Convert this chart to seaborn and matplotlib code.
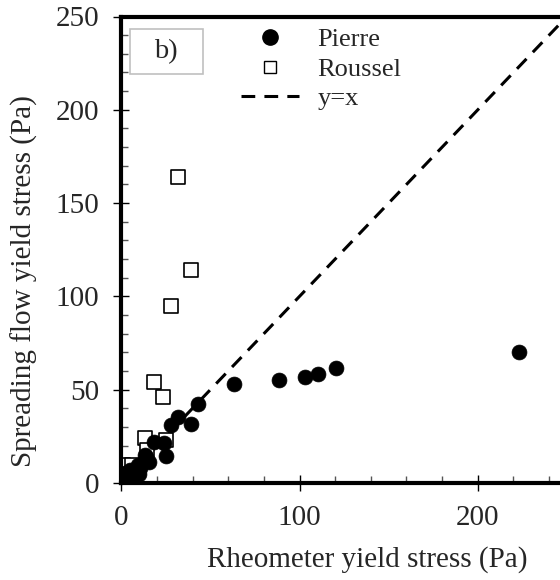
import matplotlib
matplotlib.use("Agg")
import matplotlib.pyplot as plt
from matplotlib.lines import Line2D
from matplotlib.patches import Rectangle
from matplotlib.ticker import MultipleLocator
import seaborn as sns
import pandas as pd
import numpy as np

# ---- data ----
pierre_x = [222.9, 120.7, 110.3, 102.9, 88.3, 63.2, 43.2, 39.2, 31.6, 27.8,
            24.2, 25.4, 18.2, 13.8, 15.8, 13.3, 0.5, 1.5, 3.0, 5.0, 6.0,
            10.0, 10.5, 9.6, 2.0, 4.9]
pierre_y = [70.3, 61.4, 58.4, 56.8, 55.4, 52.8, 42.5, 31.6, 35.5, 31.0,
            21.6, 14.7, 22.2, 13.7, 11.1, 15.0, 0.8, 2.0, 2.8, 4.3, 6.6,
            4.8, 8.0, 9.6, 5.4, 7.0]
roussel_x = [31.8, 39.2, 27.8, 18.2, 23.4, 13.1, 25.4, 14.5, 1.1, 6.1, 9.0, 1.0, 3.0]
roussel_y = [164.0, 114.4, 94.9, 54.0, 46.1, 24.2, 23.2, 17.7, 9.8, 9.8, 5.9, 1.0, 3.0]
line_x = [0, 250]
line_y = [0, 250]

x_label = "Rheometer yield stress (Pa)"
y_label = "Spreading flow yield stress (Pa)"
legend_labels = ["Pierre", "Roussel", "y=x"]
panel_label = "b)"

sns.set_style("white")
plt.rcParams["font.family"] = ["Liberation Serif", "DejaVu Serif"]

W, H = 560, 580
fig = plt.figure(figsize=(W / 100, H / 100), dpi=100)

# axes placement in pixels (right spine lies beyond the image)
x0_px, x_scale = 121.2, 1.783   # px of x=0, px per unit
y0_px, y_scale = 483.0, 1.866
xmax, ymax = 276, 250
left = x0_px / W
bottom = (H - y0_px) / H
width = xmax * x_scale / W
height = ymax * y_scale / H
ax = fig.add_axes([left, bottom, width, height])

df_p = pd.DataFrame({"x": pierre_x, "y": pierre_y})
df_r = pd.DataFrame({"x": roussel_x, "y": roussel_y})
df_l = pd.DataFrame({"x": line_x, "y": line_y})

sns.lineplot(data=df_l, x="x", y="y", ax=ax, color="black", lw=2.2,
             dashes=False, zorder=1)
ax.lines[-1].set_dashes([4.5, 3])
sns.scatterplot(data=df_r, x="x", y="y", ax=ax, marker="s", s=95,
                facecolor="white", edgecolor="black", linewidth=1.2, zorder=2)
sns.scatterplot(data=df_p, x="x", y="y", ax=ax, marker="o", s=115,
                color="black", edgecolor="black", linewidth=0.5, zorder=3)

ax.set_xlim(0, xmax)
ax.set_ylim(0, ymax)
ax.xaxis.set_major_locator(MultipleLocator(100))
ax.xaxis.set_minor_locator(MultipleLocator(20))
ax.yaxis.set_major_locator(MultipleLocator(50))
ax.yaxis.set_minor_locator(MultipleLocator(10))

for s in ax.spines.values():
    s.set_linewidth(3)
    s.set_color("black")

ax.tick_params(which="major", direction="inout", length=12, width=1,
               color="black", labelsize=21, pad=10)
ax.tick_params(which="minor", direction="in", length=5, width=1, color="#555555")
ax.tick_params(axis="both", which="both", bottom=True, left=True, top=False, right=False)

ax.set_xlabel(x_label, fontsize=21)
ax.set_ylabel(y_label, fontsize=21)
ax.xaxis.set_label_coords(0.5, -0.135)
ax.yaxis.set_label_coords(-0.17, 0.433)

handles = [
    Line2D([], [], marker="o", color="black", ls="none", markersize=11),
    Line2D([], [], marker="s", markerfacecolor="white", markeredgecolor="black",
           ls="none", markersize=9, markeredgewidth=1.0),
    Line2D([], [], color="black", lw=2.2, dashes=[4.5, 3]),
]
leg = ax.legend(handles, legend_labels, loc="upper left", frameon=False,
                fontsize=19, handlelength=2.2, handletextpad=0.7,
                labelspacing=0.22, borderpad=0, borderaxespad=0,
                bbox_to_anchor=(241 / W, 1 - 28 / H),
                bbox_transform=fig.transFigure)

# panel label box
fig.patches.append(Rectangle((130 / W, 1 - 74 / H), 73 / W, 45 / H,
                             transform=fig.transFigure, facecolor="white",
                             edgecolor="#c0c0c0", linewidth=1.2, zorder=5))
fig.text(166 / W, 1 - 52 / H, panel_label, fontsize=20.5, ha="center",
         va="center", zorder=6)

fig.savefig("out.png", dpi=100)
